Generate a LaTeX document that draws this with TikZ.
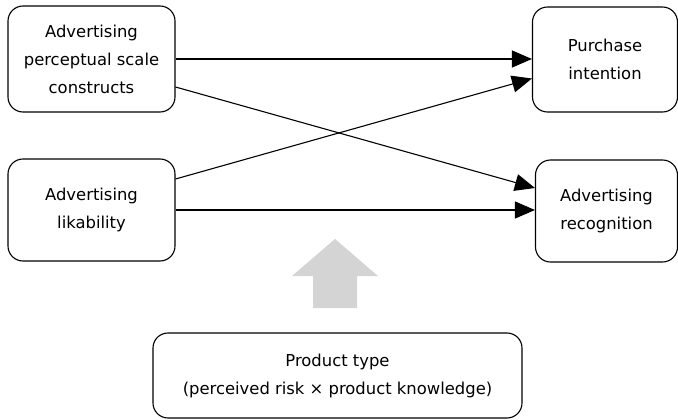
\documentclass[tikz,border=0pt]{standalone}
\usepackage{fontspec}
\setmainfont{DejaVu Sans}
\usetikzlibrary{arrows.meta,calc}
\begin{document}
\begin{tikzpicture}[x=1pt,y=-1pt,
  box/.style={draw=black, line width=1.1pt, rounded corners=15pt, align=center,
    font=\fontsize{16.4}{28}\selectfont, inner sep=0pt},
  link/.style={draw=black, line width=1.1pt, -{Triangle[length=20pt,width=17pt]}},
  bigarrow/.style={fill=black!17, draw=none}]
\useasboundingbox (0,0) rectangle (678,420);
\node[box, minimum width=167pt, minimum height=106pt] (A) at (91.5,59) {Advertising\\perceptual scale\\constructs};
\node[box, minimum width=167pt, minimum height=102pt] (B) at (91.5,210) {Advertising\\likability};
\node[box, minimum width=145pt, minimum height=105pt] (C) at (605,59.5) {Purchase\\intention};
\node[box, minimum width=142pt, minimum height=102pt] (D) at (606.5,211) {Advertising\\recognition};
\node[box, minimum width=369pt, minimum height=85pt] (E) at (337.5,375.5) {Product type\\(perceived risk × product knowledge)};
\coordinate (a1) at ([yshift=-28pt]A.east);
\coordinate (b1) at ([yshift=31pt]B.east);
\coordinate (c1) at ([yshift=-19pt]C.west);
\coordinate (d1) at ([yshift=23pt]D.west);
\draw[link] (A.east) -- (A.east -| C.west);
\draw[link] (a1) -- (d1);
\draw[link] (b1) -- (c1);
\draw[link] (B.east) -- (B.east -| D.west);
\fill[bigarrow] (335,239) -- (378,276) -- (357,276) -- (357,308) -- (313,308) -- (313,276) -- (292,276) -- cycle;
\end{tikzpicture}
\end{document}
